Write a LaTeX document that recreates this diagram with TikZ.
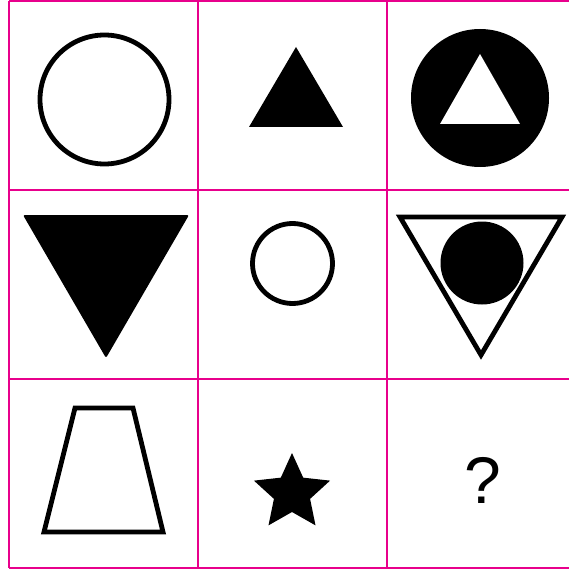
\documentclass[tikz,border=0pt]{standalone}
\usepackage{fontspec}
\setmainfont{Liberation Sans}
\usetikzlibrary{positioning,calc}
\definecolor{ink}{HTML}{000000}
\definecolor{gridC}{HTML}{E8008C}
\tikzset{
  gridln/.style={draw=gridC,line width=2.6pt},
  outl/.style={draw=ink,line width=4.8pt,fill=white},
  solid/.style={fill=ink,draw=none},
  ring/.style={circle,draw=ink,line width=4.8pt,fill=white,inner sep=0pt},
  disc/.style={circle,fill=ink,inner sep=0pt},
  qmark/.style={font=\fontsize{66}{70}\selectfont,text=ink,inner sep=0pt}}
\begin{document}
\begin{tikzpicture}[x=1pt,y=-1pt]
\useasboundingbox (0,0) rectangle (569,572);
\begin{scope}
\clip (0,0) rectangle (569,572);
\foreach \gx in {9,198,387,576} \draw[gridln] (\gx,1) -- (\gx,568);
\foreach \gy in {1,190,379,568} \draw[gridln] (9,\gy) -- (576,\gy);
\end{scope}
% row 1
\node[ring,minimum size=129pt] (bigRing) at (104.5,99.5) {};
\fill[solid] (296,47) -- (343,127) -- (249,127) -- cycle;
\node[disc,minimum size=138pt] (bigDisc) at (480,98) {};
\fill[white] (480,54) -- (520,124) -- (440,124) -- cycle;
% row 2
\fill[solid,rounded corners=2pt] (23,215) -- (189,215) -- (106,358) -- cycle;
\node[ring,minimum size=80pt] (smallRing) at (292.5,263.5) {};
\draw[outl,line join=miter] (400,217) -- (562,217) -- (481,355) -- cycle;
\node[disc,minimum size=83pt] (innerDisc) at (482,263) {};
% row 3
\draw[outl,line join=miter] (75,408) -- (133,408) -- (163,532) -- (44,532) -- cycle;
\coordinate (starC) at (292,493);
\fill[solid] ($(starC)+(-90:40)$) \foreach \k in {1,...,9} {
  -- ($(starC)+({-90+36*\k}:{ifthenelse(mod(\k,2)==1,19,40)})$)} -- cycle;
\node[qmark] (askMark) at (482.5,480) {?};
\end{tikzpicture}
\end{document}
